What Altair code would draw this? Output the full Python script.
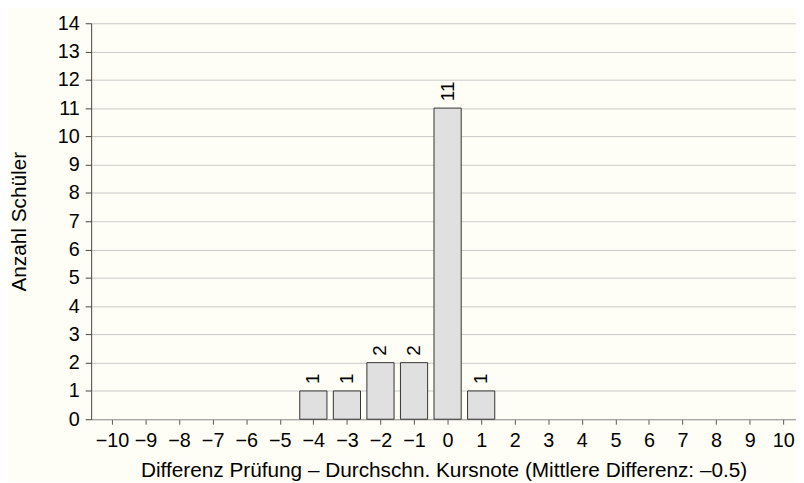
import altair as alt
import pandas as pd

diffs = [-4, -3, -2, -1, 0, 1]
counts = [1, 1, 2, 2, 11, 1]
x_ticks = list(range(-10, 11))
y_ticks = list(range(0, 15))

df = pd.DataFrame({"diff": diffs, "count": counts})
df["lo"] = df["diff"] - 0.405
df["hi"] = df["diff"] + 0.405

FONT = "Liberation Sans"
xscale = alt.Scale(domain=[-10.62, 10.38], nice=False, zero=False)
yscale = alt.Scale(domain=[0, 14], nice=False)

xaxis = alt.Axis(values=x_ticks, grid=False, format="d",
                 labelOverlap=False, labelFlush=False, labelBound=False,
                 title="Differenz Prüfung – Durchschn. Kursnote (Mittlere Differenz: –0.5)",
                 domainColor="#999999", tickColor="#555555", tickSize=5,
                 labelPadding=7, titlePadding=9)
yaxis = alt.Axis(values=y_ticks, grid=True, gridColor="#c8c8c8",
                 labelOverlap=False, labelFlush=False, labelBound=False,
                 title="Anzahl Schüler", domainColor="#444444",
                 tickColor="#444444", tickSize=6, labelPadding=6,
                 titlePadding=28)

bars = alt.Chart(df).mark_bar(fill="#e0e0e0", stroke="#333333", strokeWidth=1).encode(
    x=alt.X("lo:Q", scale=xscale, axis=xaxis),
    x2="hi:Q",
    y=alt.Y("count:Q", scale=yscale, axis=yaxis),
    y2=alt.datum(0),
)

labels = alt.Chart(df).mark_text(
    angle=270, align="left", baseline="middle", dx=7, fontSize=19, font=FONT, color="#000000"
).encode(
    x=alt.X("diff:Q", scale=xscale, axis=xaxis),
    y=alt.Y("count:Q", scale=yscale, axis=yaxis),
    text=alt.Text("count:Q"),
)

chart = alt.layer(bars, labels).properties(
    width=712, height=400,
    background="#fefef6",
    padding={"left": 84, "top": 13, "right": 0, "bottom": 61},
    autosize=alt.AutoSizeParams(type="none"),
).configure_view(stroke=None).configure_axis(
    labelFont=FONT, titleFont=FONT, labelFontSize=20, titleFontSize=21,
    labelColor="#000000", titleColor="#000000", titleFontWeight="normal",
)

chart.save("out.html", embed_options={"renderer": "svg", "actions": False})
